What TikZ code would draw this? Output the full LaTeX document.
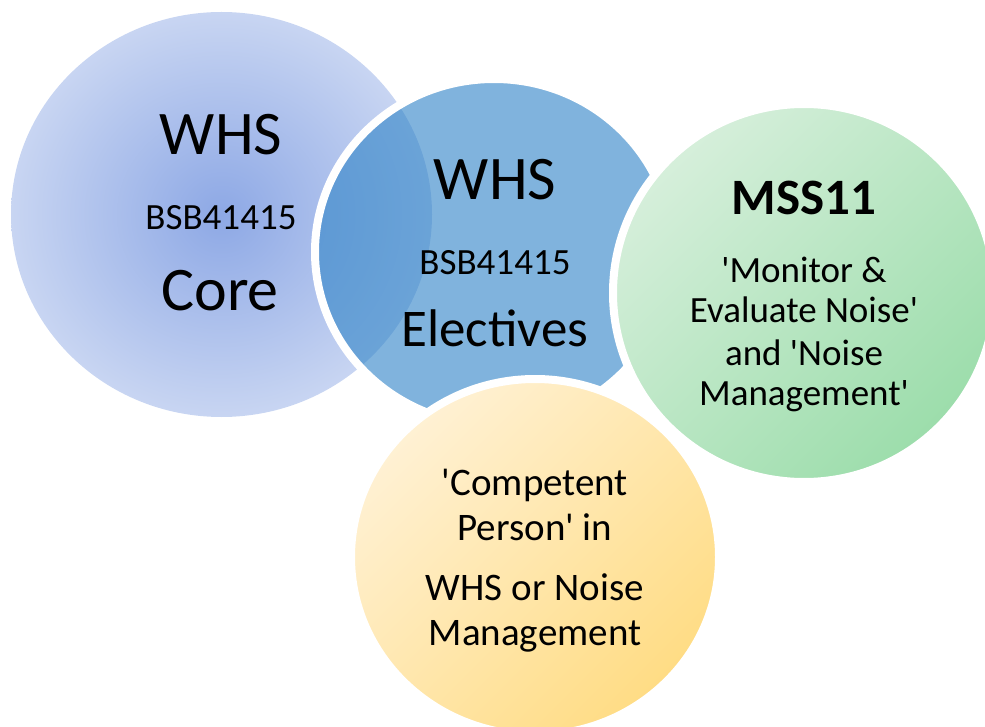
\documentclass[tikz,border=0pt]{standalone}
\usepackage{fontspec}
\setmainfont{Carlito}[Ligatures=TeXOff]
\usetikzlibrary{shapes.geometric}
\definecolor{lavc}{RGB}{141,168,229}
\definecolor{lave}{RGB}{200,213,242}
\definecolor{bluebase}{RGB}{50,133,200}
\definecolor{grl}{RGB}{214,239,219}
\definecolor{grd}{RGB}{156,221,171}
\definecolor{yel}{RGB}{255,241,212}
\definecolor{yed}{RGB}{255,220,132}
\begin{document}
\begin{tikzpicture}[x=1pt,y=-1pt,
  disc/.style={ellipse, inner sep=0pt, outer sep=0pt},
  ring/.style={draw=white, line width=8pt},
  lbl/.style={anchor=base, inner sep=0pt, text=black},
  big/.style={lbl, font=\fontsize{62}{70}\selectfont},
  mid/.style={lbl, font=\fontsize{53}{60}\selectfont},
  code/.style={lbl, font=\fontsize{37}{42}\selectfont},
  head/.style={lbl, font=\fontsize{51}{58}\selectfont\bfseries},
  gtxt/.style={lbl, font=\fontsize{37}{42}\selectfont},
  ytxt/.style={lbl, font=\fontsize{39}{44}\selectfont}]
\useasboundingbox (0,0) rectangle (985,727);
% circles
\node[disc, minimum width=421pt, minimum height=405pt, inner color=lavc, outer color=lave] (core) at (221.5,214.5) {};
\node[disc, ring, minimum width=358pt, minimum height=346pt, fill=bluebase, fill opacity=0.62] (elec) at (494,252) {};
\node[disc, ring, minimum width=382pt, minimum height=378pt, top color=grl, bottom color=grd, shading angle=45] (mss) at (804,293) {};
\node[disc, ring, minimum width=368pt, minimum height=356pt, top color=yel, bottom color=yed, shading angle=45] (comp) at (535,557) {};
% texts circle 1
\node[big] (c1a) at (221,155) {WHS};
\node[code] (c1b) at (221,230) {BSB41415};
\node[big] (c1c) at (220,310) {Core};
% texts circle 2
\node[big] (c2a) at (495,200) {WHS};
\node[code] (c2b) at (495,275) {BSB41415};
\node[mid] (c2c) at (495,346) {Electives};
% texts circle 3
\node[head] (c3a) at (804,215) {MSS11};
\node[gtxt] (c3b) at (804,283) {'Monitor \&};
\node[gtxt] (c3c) at (804,323) {Evaluate Noise'};
\node[gtxt] (c3d) at (804,365) {and 'Noise};
\node[gtxt] (c3e) at (804,405) {Management'};
% texts circle 4
\node[ytxt] (c4a) at (535,495) {'Competent};
\node[ytxt] (c4b) at (535,540) {Person' in};
\node[ytxt] (c4c) at (535,600) {WHS or Noise};
\node[ytxt] (c4d) at (535,645) {Management};
\end{tikzpicture}
\end{document}
